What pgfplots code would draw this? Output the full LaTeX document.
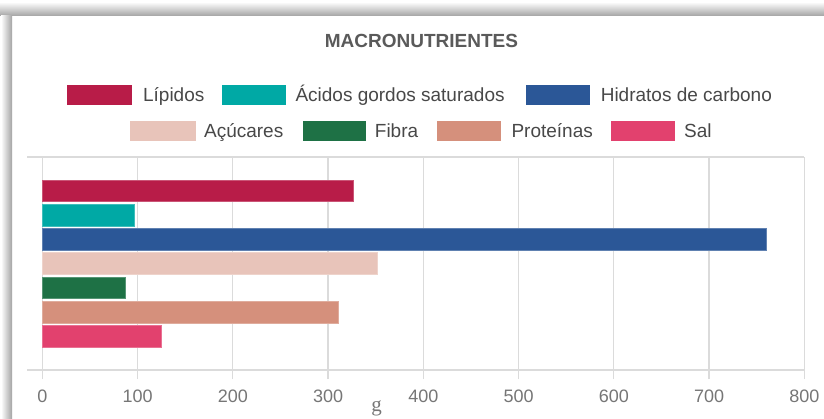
\documentclass[border=0pt]{standalone}
\usepackage{fontspec}
\setmainfont{Liberation Sans}
\newfontfamily\seriffont{Liberation Serif}
\usepackage{pgfplots}
\pgfplotsset{compat=1.18}
\definecolor{cLip}{RGB}{184,28,72}
\definecolor{cAcg}{RGB}{0,169,165}
\definecolor{cHid}{RGB}{43,87,151}
\definecolor{cAcu}{RGB}{232,196,186}
\definecolor{cFib}{RGB}{30,113,69}
\definecolor{cPro}{RGB}{213,144,124}
\definecolor{cSal}{RGB}{226,65,110}
\definecolor{txtdark}{RGB}{72,72,72}
\definecolor{titlec}{RGB}{90,90,90}
\definecolor{tickc}{RGB}{118,118,118}
\begin{document}
\begin{tikzpicture}[x=1pt,y=1pt]
\useasboundingbox (0,0) rectangle (824,-419);
\fill[white] (0,0) rectangle (824,-419);
\shade[top color=white, bottom color=black!36] (0,-2) rectangle (824,-16);
\shade[left color=white, right color=black!36] (1,-16) rectangle (12,-419);
\begin{axis}[
  at={(27.06pt,-370pt)}, anchor=south west,
  scale only axis, width=777.2pt, height=213pt,
  xmin=-16, xmax=800, ymin=-1.383, ymax=7.383,
  separate axis lines,
  x axis line style={draw=black!14, line width=1.2pt},
  y axis line style={draw=none},
  ytick=\empty,
  xtick={100,200,...,800},
  xtick pos=bottom,
  extra x ticks={0},
  extra x tick style={grid style={draw=black!42, line width=1.1pt}, tick style={draw=black!42, line width=1.1pt}},
  xmajorgrids,
  major grid style={draw=black!14, line width=1.2pt},
  tick align=outside, major tick length=9pt,
  xtick style={draw=black!14, line width=1.2pt},
  /pgf/number format/assume math mode=true,
  xticklabel style={font=\fontsize{18}{20}\selectfont, text=tickc, anchor=base, inner sep=0pt, yshift=-23.5pt},
]
\addplot[xbar, bar shift=0pt, bar width=21.7pt, fill=cLip, draw=cLip!75!white] coordinates {(326,6)};
\addplot[xbar, bar shift=0pt, bar width=21.7pt, fill=cAcg, draw=cAcg!75!white] coordinates {(96,5)};
\addplot[xbar, bar shift=0pt, bar width=21.7pt, fill=cHid, draw=cHid!75!white] coordinates {(760,4)};
\addplot[xbar, bar shift=0pt, bar width=21.7pt, fill=cAcu, draw=cAcu!75!white] coordinates {(352,3)};
\addplot[xbar, bar shift=0pt, bar width=21.7pt, fill=cFib, draw=cFib!75!white] coordinates {(87,2)};
\addplot[xbar, bar shift=0pt, bar width=21.7pt, fill=cPro, draw=cPro!75!white] coordinates {(311,1)};
\addplot[xbar, bar shift=0pt, bar width=21.7pt, fill=cSal, draw=cSal!75!white] coordinates {(125,0)};
\end{axis}
% title
\node[font=\bfseries\fontsize{19}{22}\selectfont, text=titlec, inner sep=0pt] at (421.5,-40.5) {MACRONUTRIENTES};
% legend row 1
\tikzset{leg/.style={font=\fontsize{19}{22}\selectfont, text=txtdark, inner sep=0pt, anchor=base west}}
\fill[cLip] (67.3,-85.3) rectangle (132.4,-105.3);
\node[leg] at (142.9,-102) {Lípidos};
\fill[cAcg] (221.8,-85.3) rectangle (286.4,-105.3);
\node[leg] at (295.3,-102) {Ácidos gordos saturados};
\fill[cHid] (525.5,-85.3) rectangle (590.1,-105.3);
\node[leg] at (600.6,-102) {Hidratos de carbono};
% legend row 2
\fill[cAcu] (130.3,-121.5) rectangle (195.5,-141.0);
\node[leg] at (203.9,-138) {Açúcares};
\fill[cFib] (302.7,-121.5) rectangle (366.3,-141.0);
\node[leg] at (374.7,-138) {Fibra};
\fill[cPro] (437.2,-121.5) rectangle (500.8,-141.0);
\node[leg] at (511.3,-138) {Proteínas};
\fill[cSal] (611.4,-121.5) rectangle (674.7,-141.0);
\node[leg] at (683.9,-138) {Sal};
% x label
\node[font=\seriffont\fontsize{21}{24}\selectfont, text=tickc, inner sep=0pt, anchor=base] at (376.7,-411) {g};
\end{tikzpicture}
\end{document}
